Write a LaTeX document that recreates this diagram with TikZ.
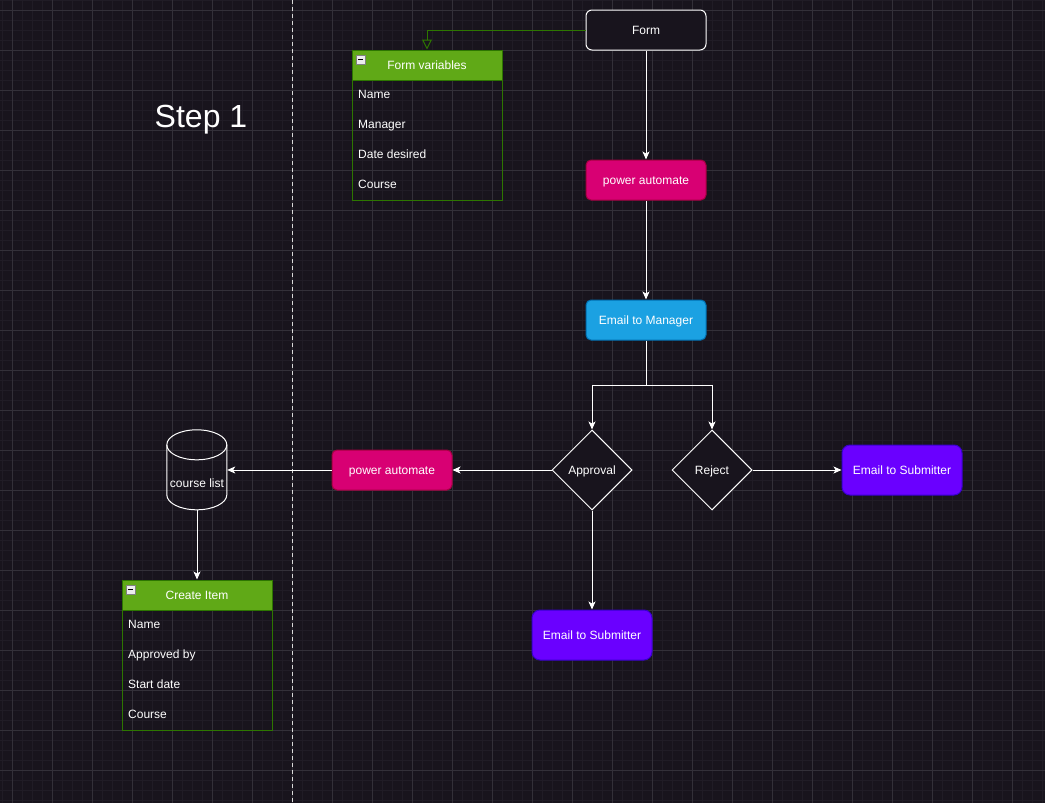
\documentclass[tikz,border=0pt]{standalone}
\usepackage{fontspec}
\setmainfont{Liberation Sans}
\usetikzlibrary{shapes.geometric,arrows.meta,positioning}

\definecolor{bgdark}{HTML}{18141D}
\definecolor{gridminor}{HTML}{201C26}
\definecolor{gridmajor}{HTML}{333039}
\definecolor{pinkfill}{HTML}{D80073}
\definecolor{pinkline}{HTML}{A50040}
\definecolor{bluefill}{HTML}{1BA1E2}
\definecolor{blueline}{HTML}{006EAF}
\definecolor{violetfill}{HTML}{6A00FF}
\definecolor{violetline}{HTML}{3700CC}
\definecolor{greenfill}{HTML}{60A917}
\definecolor{greenline}{HTML}{2D7600}

\tikzset{
	txt/.style={font=\fontsize{12}{14}\selectfont, text=white, text height=10pt, text depth=1pt},
	flowbox/.style={txt, rectangle, rounded corners=5pt, minimum width=120pt, minimum height=40pt, inner sep=0pt, line width=1pt},
	pinkbox/.style={flowbox, fill=pinkfill, draw=pinkline},
	submitbox/.style={flowbox, rounded corners=8pt, minimum height=50pt, fill=violetfill, draw=violetline},
	decision/.style={txt, diamond, draw=white, fill=bgdark, line width=1pt, minimum width=80pt, minimum height=80pt, inner sep=0pt},
	listhead/.style={txt, rectangle, fill=greenfill, draw=greenline, line width=1pt, minimum width=150pt, minimum height=30pt, inner sep=0pt},
	fieldtxt/.style={txt, anchor=west, inner sep=0pt},
	link/.style={draw=white, line width=1pt, -{Stealth[length=8pt,width=7pt,inset=2pt]}},
}

\begin{document}
\begin{tikzpicture}[x=1pt, y=-1pt]
		\fill[bgdark] (0,0) rectangle (1045,803);
		\useasboundingbox (0,0) rectangle (1045,803);
		\foreach \x in {2.5,12.5,...,1042.5} \draw[gridminor, line width=0.6pt] (\x,0) -- (\x,803);
		\foreach \y in {0,10,...,800} \draw[gridminor, line width=0.6pt] (0,\y) -- (1045,\y);
		\foreach \x in {12.5,52.5,...,1012.5} \draw[gridmajor, line width=0.7pt] (\x,0) -- (\x,803);
		\foreach \y in {10,50,...,770} \draw[gridmajor, line width=0.7pt] (0,\y) -- (1045,\y);
		\draw[white!85!black, line width=1pt, dash pattern=on 4pt off 3pt] (292,0) -- (292,803);

		\node[txt, font=\fontsize{32}{38}\selectfont, text height=23pt, text depth=0pt] (steplabel) at (201,116) {Step 1};

		\node[flowbox, fill=bgdark, draw=white, rounded corners=6pt] (form) at (646,30) {Form};
		\node[pinkbox] (autotop) at (646,180) {power automate};
		\node[flowbox, fill=bluefill, draw=blueline] (emailmgr) at (646,320) {Email to Manager};
		\node[decision] (approval) at (592,470) {Approval};
		\node[decision] (reject) at (712,470) {Reject};
		\node[pinkbox] (autoleft) at (392,470) {power automate};
		\node[submitbox] (submitright) at (902,470) {Email to Submitter};
		\node[submitbox] (submitdown) at (592,635) {Email to Submitter};

		\node[minimum width=60pt, minimum height=80pt, inner sep=0pt] (courselist) at (197,470) {};
		\draw[white, line width=1pt] (courselist.north west) ++(0,15) arc[start angle=180, end angle=0, x radius=30, y radius=-15]
			-- ++(0,50) arc[start angle=0, end angle=-180, x radius=30, y radius=-15] -- cycle;
		\draw[white, line width=1pt] (courselist.north west) ++(0,15) arc[start angle=180, end angle=360, x radius=30, y radius=-15];
		\node[txt] at (197,483) {course list};

		\draw[greenline, line width=1pt] (352,50) rectangle (502,200);
		\node[listhead] (formvars) at (427,65) {Form variables};
		\foreach \t [count=\i] in {Name,Manager,Date desired,Course}
			\node[fieldtxt] at (358,64+30*\i) {\t};

		\draw[greenline, line width=1pt] (122,580) rectangle (272,730);
		\node[listhead] (createitem) at (197,595) {Create Item};
		\foreach \t [count=\i] in {Name,Approved by,Start date,Course}
			\node[fieldtxt] at (128,594+30*\i) {\t};

		\foreach \hx/\hy in {356/55,126/585} {
			\draw[fill=gray!15, draw=gray, line width=0.6pt] (\hx,\hy) rectangle ++(9,9);
			\draw[black, line width=1.2pt] (\hx+2,\hy+4.5) -- ++(5,0);
		}

		\draw[greenline, line width=1pt, -{Triangle[open, length=10pt, width=10pt]}] (form.west) -| (formvars.north);
		\draw[link] (form.south) -- (autotop.north);
		\draw[link] (autotop.south) -- (emailmgr.north);
		\draw[link] (emailmgr.south) -- ++(0,45) -| (approval.north);
		\draw[link] (emailmgr.south) -- ++(0,45) -| (reject.north);
		\draw[link] (approval.west) -- (autoleft.east);
		\draw[link] (autoleft.west) -- (courselist.east);
		\draw[link] (courselist.south) -- (createitem.north);
		\draw[link] (reject.east) -- (submitright.west);
		\draw[link] (approval.south) -- (submitdown.north);
	\end{tikzpicture}
\end{document}
